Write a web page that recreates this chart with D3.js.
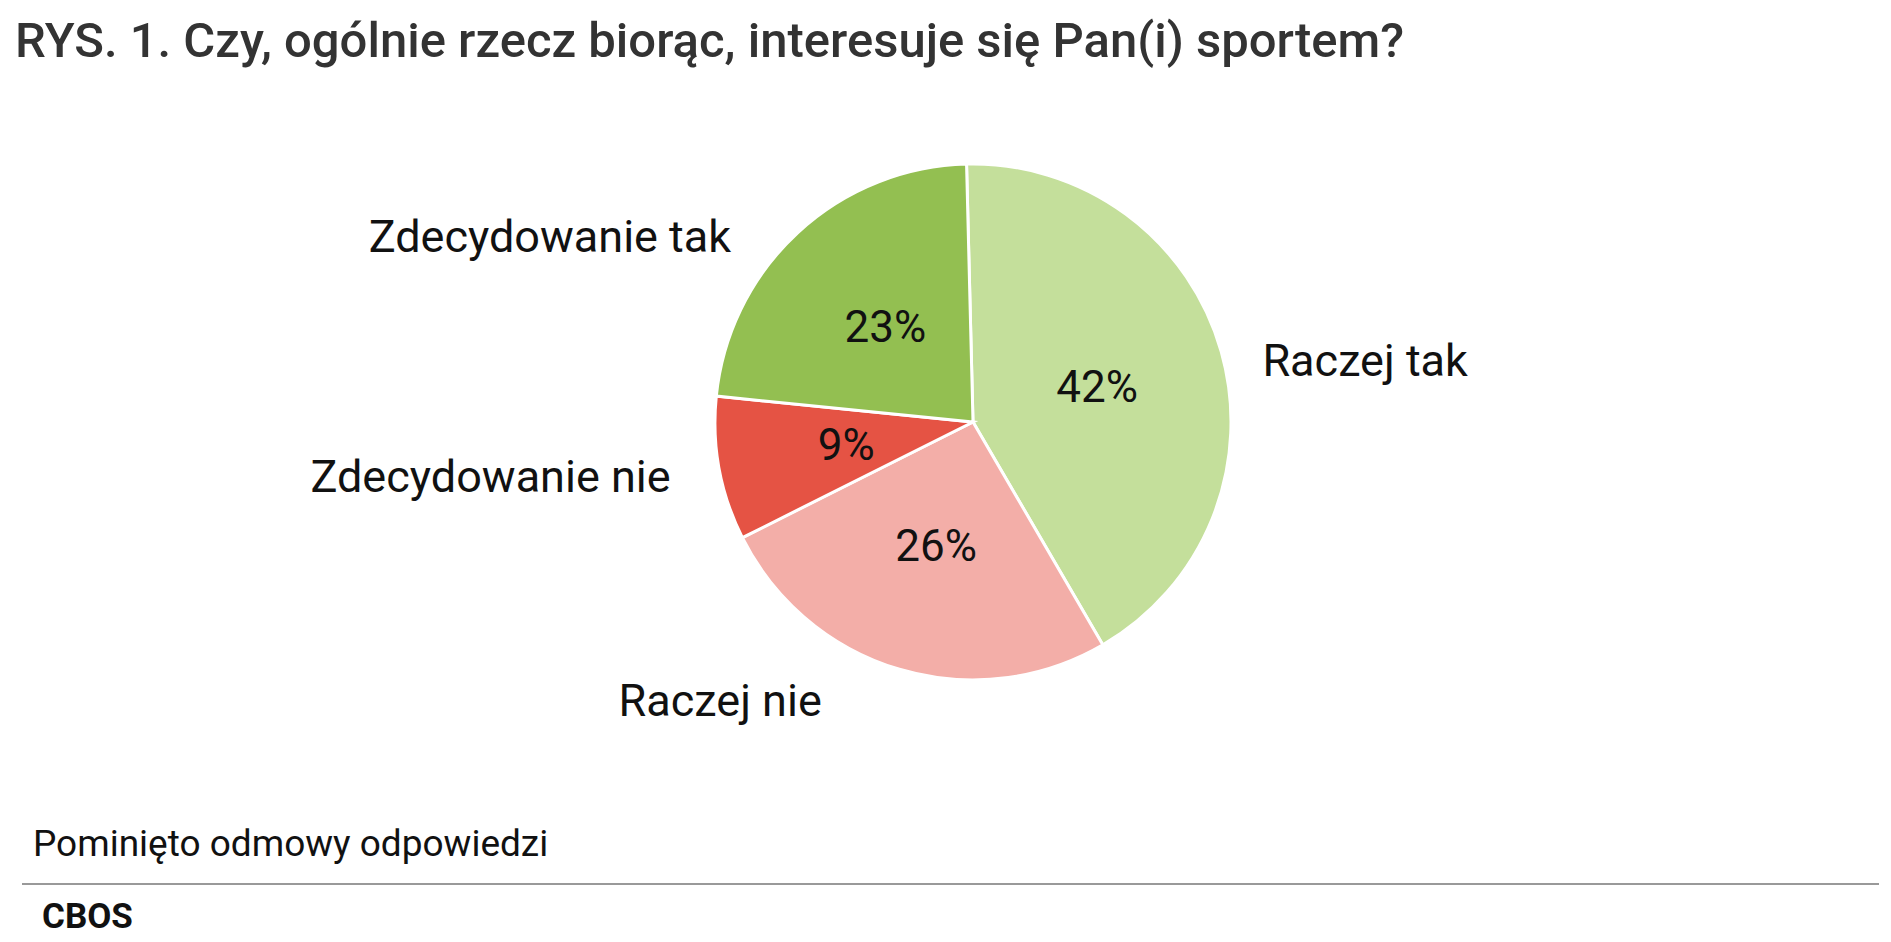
<!DOCTYPE html>
<html><head><meta charset="utf-8">
<script src="https://cdn.jsdelivr.net/npm/d3@7"></script>
<style>body{margin:0;background:#fff}text{font-family:Roboto,sans-serif}</style>
</head><body>
<svg id="c" width="1891" height="942"></svg>
<script>
const categories = ["Raczej tak","Raczej nie","Zdecydowanie nie","Zdecydowanie tak"];
const values = [42,26,9,23];
const colors = ["#c4df9b","#f3aea8","#e55344","#93bf51"];
// label offsets relative to pie centre, in radius units
const labelOffsets = [[1.52,-0.24],[-0.98,1.08],[-1.87,0.21],[-1.64,-0.72]];

const svg = d3.select("#c");
const cx = 973, cy = 422, r = 258;
svg.append("text").attr("x",15).attr("y",57).attr("font-size",49).attr("font-weight",500)
  .attr("fill","#333").text("RYS. 1. Czy, ogólnie rzecz biorąc, interesuje się Pan(i) sportem?");

const pie = d3.pie().sort(null).value(d=>d).startAngle(-0.025).endAngle(2*Math.PI-0.025);
const arcs = pie(values);
const arc = d3.arc().innerRadius(0).outerRadius(r);
const inner = d3.arc().innerRadius(r*0.5).outerRadius(r*0.5);
const g = svg.append("g").attr("transform",`translate(${cx},${cy})`);
g.selectAll("path").data(arcs).join("path").attr("d",arc)
  .attr("fill",(d,i)=>colors[i]).attr("stroke","#fff").attr("stroke-width",3);
g.selectAll("text.p").data(arcs).join("text").attr("class","p")
  .attr("transform",d=>`translate(${inner.centroid(d)})`)
  .attr("text-anchor","middle").attr("dominant-baseline","central")
  .attr("font-size",44).attr("fill","#111").text(d=>d.data+"%");
g.selectAll("text.l").data(categories).join("text").attr("class","l")
  .attr("x",(d,i)=>labelOffsets[i][0]*r).attr("y",(d,i)=>labelOffsets[i][1]*r)
  .attr("text-anchor","middle").attr("dominant-baseline","central")
  .attr("font-size",45).attr("fill","#111").text(d=>d);

svg.append("text").attr("x",33).attr("y",856).attr("font-size",37).attr("fill","#111").text("Pominięto odmowy odpowiedzi");
svg.append("line").attr("x1",22).attr("x2",1879).attr("y1",884).attr("y2",884).attr("stroke","#777").attr("stroke-width",1.5);
svg.append("text").attr("x",42).attr("y",928).attr("font-size",35).attr("font-weight",700)
  .attr("font-family","'Open Sans',sans-serif").attr("fill","#111").text("CBOS");
</script></body></html>
